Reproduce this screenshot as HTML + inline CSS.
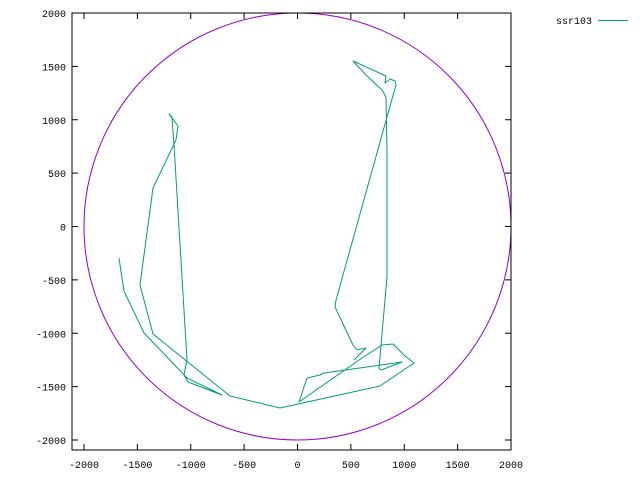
<!DOCTYPE html>
<html><head><meta charset="utf-8"><style>
body{margin:0;background:#fff}
svg{display:block;font-family:"Liberation Mono","DejaVu Sans Mono",monospace;font-size:10px}
</style></head><body>
<svg width="640" height="480" id="c">
<rect x="0" y="0" width="640" height="480" fill="#fff"/>
<g id="plot"></g>
<rect x="72" y="13" width="439" height="437" fill="none" stroke="#000" stroke-width="1"/>
<g id="axes"></g>
<g>
<text x="592" y="24" text-anchor="end">ssr103</text>
<line x1="598" y1="20.5" x2="628" y2="20.5" stroke="#009e73"/>
</g>
</svg>
<script>
const xTicks=[-2000,-1500,-1000,-500,0,500,1000,1500,2000];
const yTicks=[-2000,-1500,-1000,-500,0,500,1000,1500,2000];
const circleRadius=2000;
const pathX=[-1672,-1625,-1438,-1035,-707,-1026,-1063,-1035,-1157,-1176,-1204,-1119,-1138,-1354,-1475,-1354,-632,-164,773,1091,998,895,792,604,14,89,211,248,979,782,763,838,838,829,792,642,520,829,820,867,913,923,838,361,351,520,557,642,529];
const pathY=[-295,-604,-998,-1419,-1578,-1457,-1391,-1251,763,1026,1054,941,810,361,-548,-1007,-1588,-1700,-1494,-1279,-1204,-1101,-1110,-1232,-1644,-1419,-1391,-1372,-1269,-1344,-1326,-473,717,1213,1279,1419,1550,1410,1344,1382,1363,1326,1026,-689,-754,-1110,-1157,-1138,-1251];
const NS="http://www.w3.org/2000/svg";
const k=0.10675;
function sx(v){return 297.5+v*k;}
function sy(v){return 226.5-v*k;}
const plot=document.getElementById('plot'),axes=document.getElementById('axes');
xTicks.forEach(t=>{
 const x=sx(t);
 const l=document.createElementNS(NS,'path');
 l.setAttribute('d',`M${x},450v-6M${x},13v6`);l.setAttribute('stroke','#000');
 
 
 axes.appendChild(l);
 const tx=document.createElementNS(NS,'text');
 tx.setAttribute('x',x);tx.setAttribute('y',468);tx.setAttribute('text-anchor','middle');tx.textContent=t;
 
 
 axes.appendChild(tx);
});
yTicks.forEach(t=>{
 const y=sy(t);
 const l=document.createElementNS(NS,'path');
 l.setAttribute('d',`M72,${y}h6M511,${y}h-6`);l.setAttribute('stroke','#000');
 
 
 axes.appendChild(l);
 const tx=document.createElementNS(NS,'text');
 tx.setAttribute('x',66);tx.setAttribute('y',y+4);tx.setAttribute('text-anchor','end');tx.textContent=t;
 
 
 axes.appendChild(tx);
});
const c=document.createElementNS(NS,'ellipse');
c.setAttribute('cx',sx(0));c.setAttribute('cy',sy(0));c.setAttribute('rx',circleRadius*k);c.setAttribute('ry',circleRadius*k);
c.setAttribute('fill','none');c.setAttribute('stroke','#9400d3');


plot.appendChild(c);
const p=document.createElementNS(NS,'path');
p.setAttribute('d',pathX.map((v,i)=>(i?'L':'M')+sx(v).toFixed(1)+','+sy(pathY[i]).toFixed(1)).join(''));
p.setAttribute('fill','none');p.setAttribute('stroke','#009e73');p.setAttribute('stroke-linejoin','round');


plot.appendChild(p);
</script>
</body></html>
